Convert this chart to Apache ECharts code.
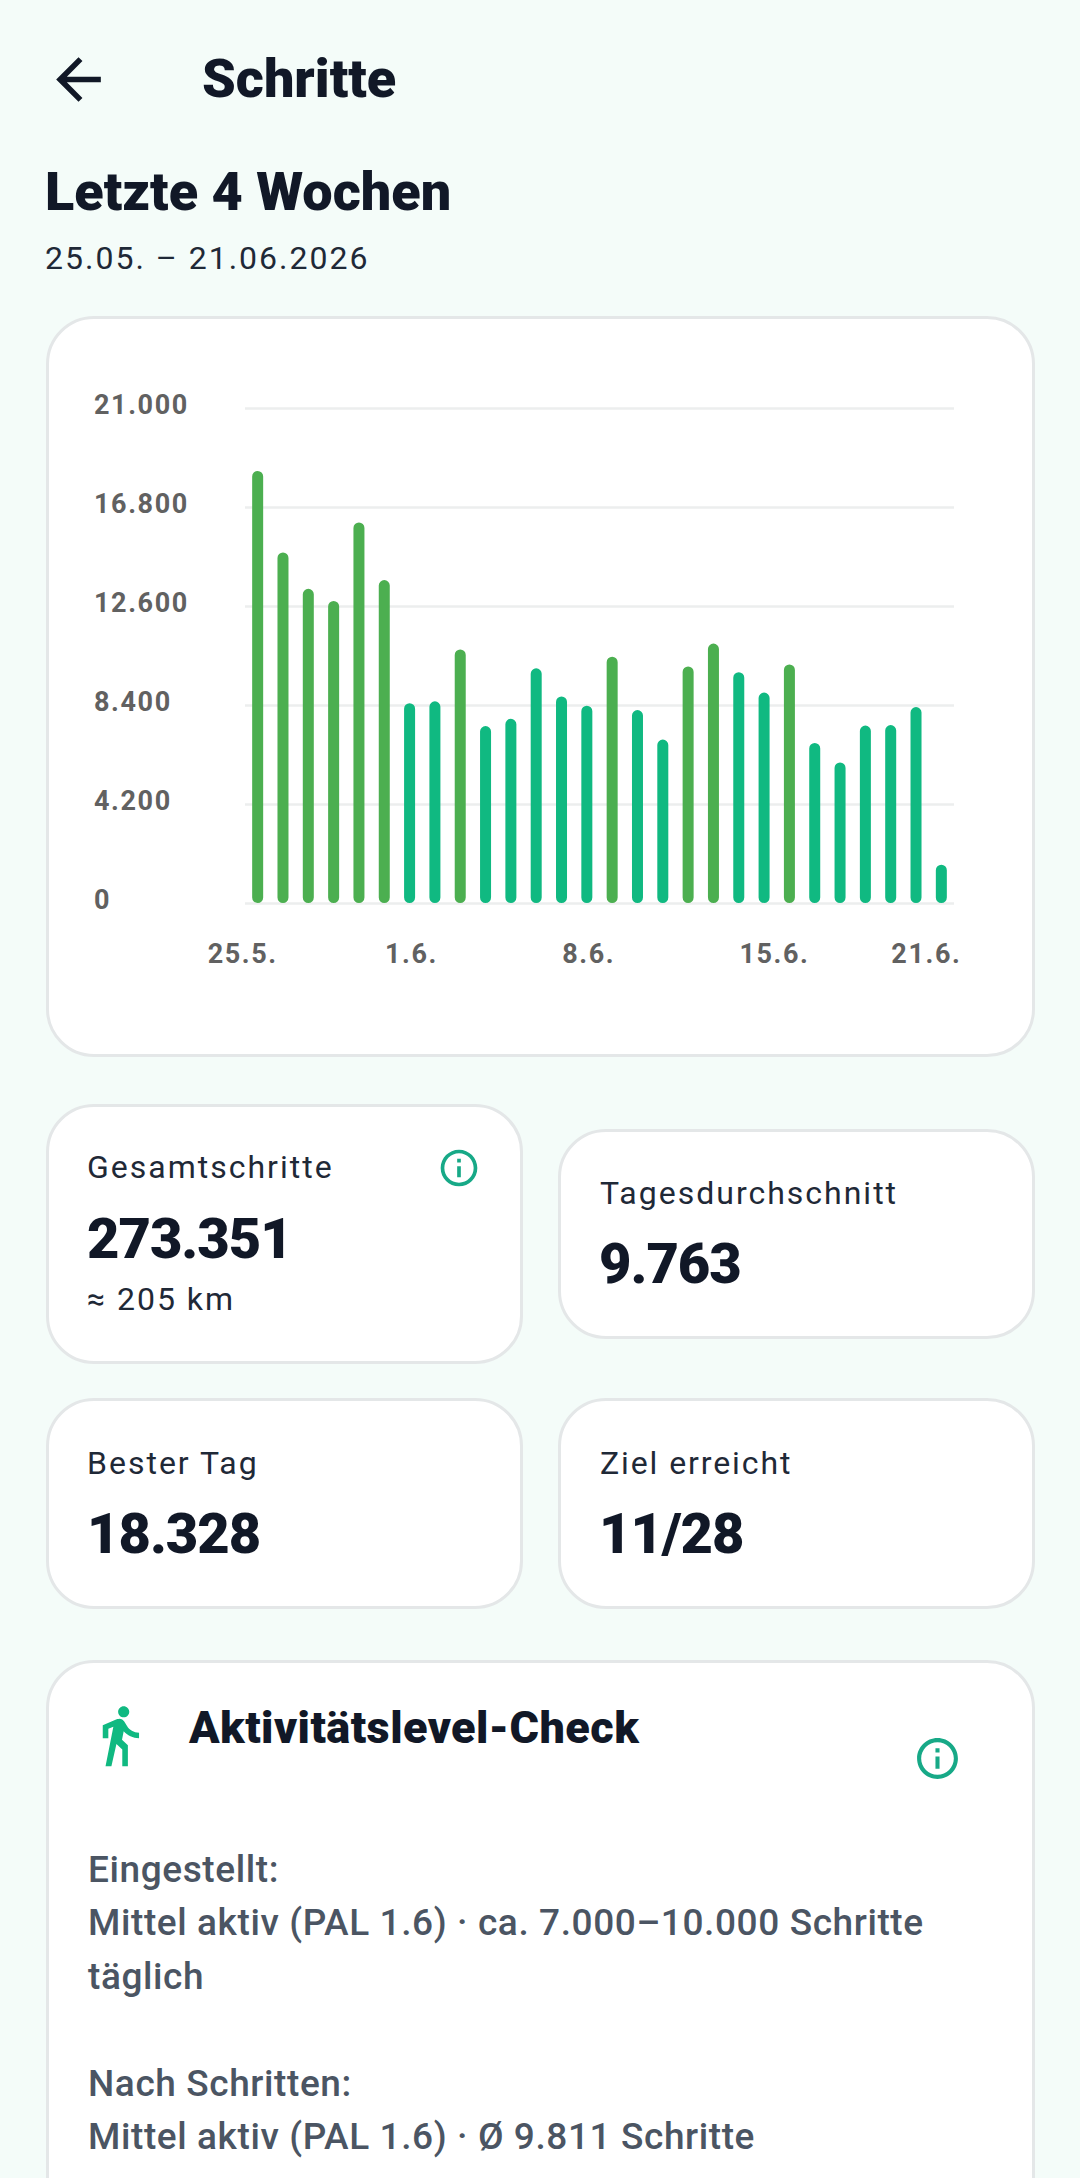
<!DOCTYPE html>
<html lang="de">
<head>
<meta charset="utf-8">
<title>Schritte</title>
<script src="https://cdn.jsdelivr.net/npm/echarts@6/dist/echarts.min.js"></script>
<style>
html,body{margin:0;padding:0;width:1080px;height:2178px;overflow:hidden;background:#F4FCF9;font-family:Roboto,sans-serif;}
.t{position:absolute;white-space:nowrap;line-height:1;}
.card{position:absolute;box-sizing:border-box;background:#fff;border:3px solid #E4E7E8;border-radius:48px;}
.h{font-weight:900;color:#111827;}
.big{font-weight:900;color:#111827;font-size:56px;letter-spacing:-1px;}
.lab{color:#1F2937;font-size:32px;letter-spacing:2px;}
.body{color:#4B5563;font-weight:500;font-size:37px;letter-spacing:.6px;}
svg.i{position:absolute;}
#chart{position:absolute;left:46px;top:316px;width:989px;height:740px;letter-spacing:1.6px;}
</style>
</head>
<body>
<svg class="i" style="left:45px;top:46px" width="67" height="67" viewBox="0 0 24 24"><path fill="#111827" d="M20 11H7.83l5.59-5.59L12 4l-8 8 8 8 1.41-1.41L7.83 13H20v-2z"/></svg>
<div class="t h" style="left:202px;top:52px;font-size:54px;letter-spacing:0">Schritte</div>
<div class="t h" style="left:45px;top:165px;font-size:54px;letter-spacing:0">Letzte 4 Wochen</div>
<div class="t" style="left:45px;top:242px;font-size:32px;letter-spacing:2px;color:#1F2937">25.05. – 21.06.2026</div>

<div class="card" style="left:46px;top:316px;width:989px;height:741px"></div>
<div id="chart"></div>

<div class="card" style="left:46px;top:1104px;width:477px;height:260px"></div>
<div class="t lab" style="left:87px;top:1151px">Gesamtschritte</div>
<svg class="i" style="left:437px;top:1146px" width="44" height="44" viewBox="0 0 24 24"><path fill="#17A987" d="M11 7h2v2h-2zm0 4h2v6h-2zm1-9C6.48 2 2 6.48 2 12s4.48 10 10 10 10-4.48 10-10S17.52 2 12 2zm0 18c-4.41 0-8-3.59-8-8s3.59-8 8-8 8 3.59 8 8-3.59 8-8 8z"/></svg>
<div class="t big" style="left:87px;top:1211px">273.351</div>
<div class="t lab" style="left:87px;top:1283px">≈ 205 km</div>

<div class="card" style="left:558px;top:1129px;width:477px;height:210px"></div>
<div class="t lab" style="left:600px;top:1177px">Tagesdurchschnitt</div>
<div class="t big" style="left:599px;top:1236px">9.763</div>

<div class="card" style="left:46px;top:1398px;width:477px;height:211px"></div>
<div class="t lab" style="left:87px;top:1447px">Bester Tag</div>
<div class="t big" style="left:87px;top:1506px">18.328</div>

<div class="card" style="left:558px;top:1398px;width:477px;height:211px"></div>
<div class="t lab" style="left:600px;top:1447px;letter-spacing:1.9px">Ziel erreicht</div>
<div class="t big" style="left:599px;top:1506px">11/28</div>

<div class="card" style="left:46px;top:1660px;width:989px;height:620px"></div>
<svg class="i" style="left:86px;top:1702px" width="67" height="67" viewBox="0 0 24 24"><path fill="#10B981" d="M13.5 5.5c1.1 0 2-.9 2-2s-.9-2-2-2-2 .9-2 2 .9 2 2 2zM9.8 8.9L7 23h2.1l1.8-8 2.1 2v6h2v-7.5l-2.1-2 .6-3C14.8 12 16.8 13 19 13v-2c-1.9 0-3.5-1-4.3-2.4l-1-1.6c-.4-.6-1-1-1.7-1-.3 0-.5.1-.8.1L6 8.3V13h2V9.6l1.8-.7"/></svg>
<div class="t h" style="left:189px;top:1705px;font-size:45px;letter-spacing:.45px">Aktivitätslevel-Check</div>
<svg class="i" style="left:913px;top:1734px" width="49" height="49" viewBox="0 0 24 24"><path fill="#17A987" d="M11 7h2v2h-2zm0 4h2v6h-2zm1-9C6.48 2 2 6.48 2 12s4.48 10 10 10 10-4.48 10-10S17.52 2 12 2zm0 18c-4.41 0-8-3.59-8-8s3.59-8 8-8 8 3.59 8 8-3.59 8-8 8z"/></svg>
<div class="t body" style="left:88px;top:1851px">Eingestellt:</div>
<div class="t body" style="left:88px;top:1904px">Mittel aktiv (PAL 1.6) · ca. 7.000–10.000 Schritte</div>
<div class="t body" style="left:88px;top:1958px">täglich</div>
<div class="t body" style="left:88px;top:2065px">Nach Schritten:</div>
<div class="t body" style="left:88px;top:2118px">Mittel aktiv (PAL 1.6) · Ø 9.811 Schritte</div>

<script>
const categories = ['25.5.','26.5.','27.5.','28.5.','29.5.','30.5.','31.5.','1.6.','2.6.','3.6.','4.6.','5.6.','6.6.','7.6.','8.6.','9.6.','10.6.','11.6.','12.6.','13.6.','14.6.','15.6.','16.6.','17.6.','18.6.','19.6.','20.6.','21.6.'];
const steps = [18328,14871,13328,12814,16146,13699,8474,8557,10757,7508,7816,9955,8762,8371,10449,8186,6932,10037,11004,9790,8927,10120,6788,5965,7528,7549,8310,1625];
const shownDates = ['25.5.','1.6.','8.6.','15.6.','21.6.'];
const goal = 10000;
const yMax = 21000;
const yStep = 4200;
const colorReached = '#4CAF50';
const colorBelow = '#10B981';

const chart = echarts.init(document.getElementById('chart'), null, {renderer:'svg'});
chart.setOption({
  animation:false,
  grid:{left:199,top:92,width:709,height:495,containLabel:false},
  xAxis:{
    type:'category',
    data:categories,
    axisLine:{show:false},
    axisTick:{show:false},
    axisLabel:{
      interval:(i,v)=>shownDates.includes(v),
      align:'left',
      margin:37,
      padding:[0,0,0,-50],
      fontFamily:'Roboto',
      fontWeight:'bold',
      fontSize:27,
      color:'#616161'
    }
  },
  yAxis:{
    type:'value',
    min:0,max:yMax,interval:yStep,
    axisLine:{show:false},
    axisTick:{show:false},
    splitLine:{lineStyle:{color:'#ECEEEE',width:2.5}},
    axisLabel:{
      align:'left',
      verticalAlign:'bottom',
      margin:151,
      padding:[0,0,-10,0],
      fontFamily:'Roboto',
      fontWeight:'bold',
      fontSize:27,
      color:'#616161',
      formatter:v=>v.toLocaleString('de-DE')
    }
  },
  series:[{
    type:'bar',
    data:steps,
    barWidth:11,
    itemStyle:{
      borderRadius:5.5,
      color:p=>p.value>=goal?colorReached:colorBelow
    }
  }]
});
</script>
</body>
</html>
